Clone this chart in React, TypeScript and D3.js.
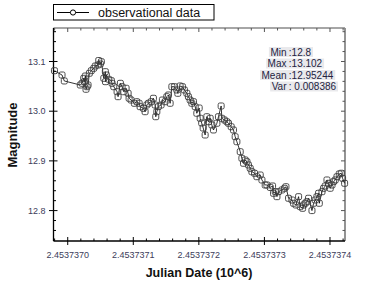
import React, { useEffect, useRef } from 'react';
import { scaleLinear, line, range, select } from 'd3';

// days after JD 2453737.0
const days = [
  -0.0202, -0.0087, -0.0052, 0.0192, 0.0218, 0.0244, 0.0253, 0.0269, 0.0279, 0.0295,
  0.031, 0.033, 0.036, 0.0397, 0.0421, 0.0463, 0.0473, 0.0498, 0.0513, 0.055,
  0.0574, 0.0576, 0.0589, 0.0626, 0.0666, 0.0676, 0.0702, 0.0753, 0.0768, 0.0803,
  0.0829, 0.0855, 0.089, 0.0921, 0.0936, 0.0966, 0.1017, 0.1053, 0.1089, 0.1104,
  0.1154, 0.118, 0.1206, 0.1231, 0.1272, 0.1307, 0.1333, 0.1343, 0.1359, 0.1383,
  0.1424, 0.1444, 0.1485, 0.1511, 0.1536, 0.1562, 0.1588, 0.1627, 0.1664, 0.1679,
  0.1714, 0.175, 0.178, 0.1817, 0.1841, 0.1867, 0.1893, 0.1918, 0.1944, 0.1969,
  0.2005, 0.202, 0.2043, 0.2066, 0.2096, 0.2122, 0.2147, 0.2173, 0.2198, 0.2223,
  0.2275, 0.2299, 0.234, 0.2351, 0.2391, 0.2427, 0.2452, 0.2493, 0.2528, 0.2554,
  0.258, 0.2631, 0.2656, 0.2681, 0.2707, 0.2733, 0.2757, 0.2783, 0.2809, 0.2849,
  0.2885, 0.2936, 0.2962, 0.3012, 0.3038, 0.3089, 0.3124, 0.3139, 0.3165, 0.3191,
  0.3215, 0.3267, 0.3307, 0.3328, 0.3368, 0.342, 0.3444, 0.3481, 0.3521, 0.3546,
  0.3582, 0.3597, 0.3623, 0.3649, 0.3673, 0.3725, 0.375, 0.3776, 0.3801, 0.3826,
  0.3837, 0.3878, 0.3902, 0.3928, 0.3954, 0.3979, 0.4004, 0.4031, 0.4055, 0.4081,
  0.4107, 0.4142, 0.4172, 0.4192, 0.4223,
];

const mags = [
  13.0815, 13.0728, 13.0608, 13.0527, 13.0561, 13.0662, 13.0594, 13.0708, 13.0441, 13.0493,
  13.0527, 13.0763, 13.0815, 13.0863, 13.0909, 13.093, 13.102, 13.095, 13.0996, 13.0662,
  13.0795, 13.0594, 13.0728, 13.0642, 13.0614, 13.0561, 13.0493, 13.0392, 13.0292, 13.0561,
  13.0493, 13.0392, 13.0461, 13.036, 13.026, 13.0225, 13.0159, 13.0191, 13.0159, 13.0091,
  13.0058, 12.999, 13.0125, 13.0159, 13.0191, 13.026, 13.0125, 12.9889, 12.999, 13.0091,
  13.0125, 13.0225, 13.0191, 13.0292, 13.0326, 13.0159, 13.0493, 13.0493, 13.0427, 13.036,
  13.0507, 13.0493, 13.0427, 13.036, 13.0292, 13.0225, 13.0159, 13.0191, 13.0091, 12.9958,
  13.0064, 12.9857, 12.9763, 12.9662, 12.9521, 12.9889, 12.9789, 12.9857, 12.9722, 12.9622,
  12.9757, 12.9889, 13.0105, 12.9857, 12.9823, 12.9789, 12.9757, 12.9688, 12.9622, 12.9487,
  12.9386, 12.9185, 12.9052, 12.8952, 12.9018, 12.8984, 12.8918, 12.8851, 12.8783, 12.8751,
  12.8682, 12.8716, 12.8616, 12.8515, 12.8515, 12.8465, 12.8495, 12.8348, 12.838, 12.828,
  12.838, 12.8415, 12.8449, 12.8481, 12.8248, 12.8213, 12.8147, 12.8113, 12.828, 12.8079,
  12.8046, 12.8113, 12.8147, 12.8179, 12.8248, 12.8, 12.8147, 12.8213, 12.828, 12.8348,
  12.8147, 12.838, 12.8449, 12.8495, 12.8616, 12.8549, 12.8449, 12.8515, 12.8582, 12.8616,
  12.8682, 12.8737, 12.8751, 12.865, 12.8549,
];

const xTicks = [0, 0.1, 0.2, 0.3, 0.4];
const yTicks = [12.8, 12.9, 13.0, 13.1];
const statLabels = ['Min', 'Max', 'Mean', 'Var'];
const statValues = [':12.8', ':13.102', ':12.95244', ': 0.008386'];

const W = 373, H = 286;
const left = 53.5, right = 345, top = 28, bottom = 241;

export default function App() {
  const statsRef = useRef<SVGGElement>(null);

  const x = scaleLinear().domain([-0.0217, 0.4229]).range([left, right]);
  const y = scaleLinear().domain([12.7388, 13.1674]).range([bottom, top]);

  const pts = days.map((d, i) => [d, mags[i]] as [number, number]);
  const path = line<[number, number]>().x((d) => x(d[0])).y((d) => y(d[1]))(pts);

  const xMinor = range(-0.02, 0.4201, 0.02).filter((v) => Math.abs(x(v) - left) > 1 && Math.abs(x(v) - right) > 1);
  const yMinor = range(12.74, 13.161, 0.02).filter((v) => Math.abs(y(v) - bottom) > 1 && Math.abs(y(v) - top) > 1);

  useEffect(() => {
    const g = select(statsRef.current);
    g.selectAll('rect').remove();
    g.selectAll<SVGGElement, unknown>('g.stat').each(function () {
      const b = (this as SVGGElement).getBBox();
      select(this).insert('rect', ':first-child')
        .attr('x', b.x - 1.5).attr('y', b.y + 0.5)
        .attr('width', b.width + 3).attr('height', b.height - 1)
        .attr('fill', '#e9e9ec');
    });
  }, []);

  const tickFont = { fontFamily: 'Liberation Sans, Arial, sans-serif', fontSize: 9, fill: '#3c3c5a' };

  return (
    <svg width={W} height={H} style={{ position: 'absolute', left: 0, top: 0, display: 'block', background: '#fff' }}>
      {/* legend */}
      <rect x={53.5} y={4.5} width={160.5} height={15.5} fill="#fff" stroke="#000" strokeWidth={1} />
      <line x1={57} x2={89} y1={12.5} y2={12.5} stroke="#000" strokeWidth={1} />
      <circle cx={73} cy={12.5} r={2.6} fill="#fff" stroke="#000" strokeWidth={1} />
      <text x={98} y={17} style={{ fontFamily: 'Liberation Sans, Arial, sans-serif', fontSize: 12.5 }} fill="#111">observational data</text>

      {/* frame */}
      <line x1={left} x2={right} y1={top} y2={top} stroke="#888" strokeWidth={1.5} />
      <line x1={right} x2={right} y1={top} y2={bottom} stroke="#888" strokeWidth={1.8} />
      <line x1={left} x2={left} y1={top} y2={bottom} stroke="#000" strokeWidth={1.3} />
      <line x1={left} x2={right} y1={bottom} y2={bottom} stroke="#000" strokeWidth={1.3} />

      {/* x ticks */}
      {xTicks.map((t) => (
        <g key={'xt' + t}>
          <line x1={x(t)} x2={x(t)} y1={bottom - 4} y2={bottom + 4} stroke="#000" />
          <line x1={x(t)} x2={x(t)} y1={top} y2={top + 4} stroke="#555" />
          <text x={x(t)} y={258} textAnchor="middle" style={tickFont}>
            {((2453737 + t) / 1e6).toFixed(7)}
          </text>
        </g>
      ))}
      {xMinor.filter((v) => !xTicks.some((t) => Math.abs(t - v) < 1e-6)).map((v) => (
        <g key={'xm' + v}>
          <line x1={x(v)} x2={x(v)} y1={bottom - 2.5} y2={bottom} stroke="#000" />
          <line x1={x(v)} x2={x(v)} y1={top} y2={top + 2.5} stroke="#555" />
        </g>
      ))}

      {/* y ticks */}
      {yTicks.map((t) => (
        <g key={'yt' + t}>
          <line x1={left - 4.5} x2={left + 4} y1={y(t)} y2={y(t)} stroke="#000" />
          <line x1={right - 4} x2={right} y1={y(t)} y2={y(t)} stroke="#555" />
          <text x={45.5} y={y(t) + 3.2} textAnchor="end" style={tickFont}>{t.toFixed(1)}</text>
        </g>
      ))}
      {yMinor.filter((v) => !yTicks.some((t) => Math.abs(t - v) < 1e-6)).map((v) => (
        <g key={'ym' + v}>
          <line x1={left} x2={left + 2.5} y1={y(v)} y2={y(v)} stroke="#000" />
          <line x1={right - 2.5} x2={right} y1={y(v)} y2={y(v)} stroke="#555" />
        </g>
      ))}

      {/* data */}
      <path d={path ?? ''} fill="none" stroke="#000" strokeWidth={0.8} />
      {pts.map((p, i) => (
        <rect key={i} x={x(p[0]) - 3} y={y(p[1]) - 3} width={6} height={6} rx={1.6}
          fill="none" stroke="#3a3a3a" strokeWidth={0.9} />
      ))}

      {/* stats */}
      <g ref={statsRef} style={{ fontFamily: 'Liberation Sans, Arial, sans-serif', fontSize: 10 }} fill="#23233f">
        {statLabels.map((s, i) => (
          <g className="stat" key={s}>
            <text x={286.5} y={55.5 + i * 11.5} textAnchor="end">{s}</text>
            <text x={288.8} y={55.5 + i * 11.5}>{statValues[i]}</text>
          </g>
        ))}
      </g>

      {/* axis titles */}
      <text x={199} y={277} textAnchor="middle"
        style={{ fontFamily: 'Liberation Sans, Arial, sans-serif', fontSize: 12.5, fontWeight: 'bold' }} fill="#111">
        Julian Date (10^6)
      </text>
      <text transform="translate(17,135) rotate(-90)" textAnchor="middle"
        style={{ fontFamily: 'Liberation Sans, Arial, sans-serif', fontSize: 13, fontWeight: 'bold' }} fill="#111">
        Magnitude
      </text>
    </svg>
  );
}
